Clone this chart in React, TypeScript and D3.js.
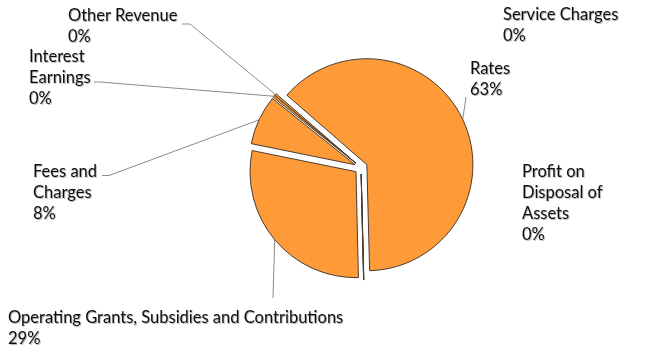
import React from "react";
import * as d3 from "d3";

// ---- data ----
const categories = [
  "Rates",
  "Service Charges",
  "Profit on Disposal of Assets",
  "Operating Grants, Subsidies and Contributions",
  "Fees and Charges",
  "Interest Earnings",
  "Other Revenue",
];
const values = [63.2, 0.03, 0.02, 28.55, 7.55, 0.35, 0.3];
const labelLines = [
  ["Rates"],
  ["Service Charges"],
  ["Profit on", "Disposal of", "Assets"],
  ["Operating Grants, Subsidies and Contributions"],
  ["Fees and", "Charges"],
  ["Interest", "Earnings"],
  ["Other Revenue"],
];

// ---- layout (positions only) ----
const W = 654;
const H = 347;
const CX = 361;
const CY = 167.5;
const R = 106;
const EXPLODE = 6.5;
const START_DEG = -49;
const FONT = "Lato, 'Open Sans', sans-serif";
const FONT_SIZE = 16.5;
const LINE_H = 21;

type LabelLayout = {
  x: number;
  y: number;
  leader: null | { elbow?: [number, number]; end: [number, number] };
};
const labelLayout: LabelLayout[] = [
  { x: 470, y: 74, leader: { end: [466, 97] } },
  { x: 503, y: 20, leader: null },
  { x: 522, y: 177, leader: null },
  { x: 8, y: 323, leader: { end: [273, 298] } },
  { x: 33, y: 177, leader: { elbow: [109, 175.5], end: [102, 175.5] } },
  { x: 29, y: 62, leader: { elbow: [100, 82], end: [94, 82] } },
  { x: 68, y: 21, leader: { elbow: [190, 24], end: [182, 24] } },
];

export default function App() {
  const total = d3.sum(values);
  const start = (START_DEG * Math.PI) / 180;
  const pie = d3
    .pie<number>()
    .sort(null)
    .value((d) => d)
    .startAngle(start)
    .endAngle(start + 2 * Math.PI);
  const arcs = pie(values);
  const arc = d3.arc<d3.PieArcDatum<number>>().innerRadius(0).outerRadius(R);

  const slices = arcs.map((a, i) => {
    const m = (a.startAngle + a.endAngle) / 2;
    const dx = EXPLODE * Math.sin(m);
    const dy = -EXPLODE * Math.cos(m);
    const edge: [number, number] = [
      CX + dx + R * Math.sin(m),
      CY + dy - R * Math.cos(m),
    ];
    return { a, i, dx, dy, edge };
  });

  return (
    <svg
      width={W}
      height={H}
      style={{ position: "absolute", left: 0, top: 0, background: "#fff" }}
    >
      <defs>
        <filter id="tshadow" x="-5%" y="-20%" width="115%" height="150%">
          <feDropShadow dx={0.9} dy={0.9} stdDeviation={0.6} floodColor="#000" floodOpacity={0.3} />
        </filter>
      </defs>
      <rect x={0} y={0} width={W} height={H} fill="#fff" />
      {/* leader lines */}
      {slices.map(({ i, edge }) => {
        const L = labelLayout[i].leader;
        if (!L) return null;
        const pts: [number, number][] = [edge];
        if (L.elbow) pts.push(L.elbow);
        pts.push(L.end);
        const line = d3.line();
        return (
          <path
            key={"l" + i}
            d={line(pts) || ""}
            fill="none"
            stroke="#8c8c8c"
            strokeWidth={1}
          />
        );
      })}
      {/* slices */}
      {slices.map(({ a, i, dx, dy }) => (
        <path
          key={"s" + i}
          d={arc(a) || ""}
          transform={`translate(${CX + dx},${CY + dy})`}
          fill="#FF9A38"
          stroke="#4a3c30"
          strokeWidth={1}
          strokeLinejoin="round"
        />
      ))}
      {/* labels */}
      {categories.map((c, i) => {
        const L = labelLayout[i];
        const lines = [...labelLines[i], `${Math.round((values[i] / total) * 100)}%`];
        return (
          <text
            key={"t" + i}
            x={L.x}
            y={L.y}
            fontFamily={FONT}
            fontSize={FONT_SIZE}
            fill="#111"
            filter="url(#tshadow)"
          >
            {lines.map((ln, j) => (
              <tspan key={j} x={L.x} y={L.y + j * LINE_H}>
                {ln}
              </tspan>
            ))}
          </text>
        );
      })}
    </svg>
  );
}
